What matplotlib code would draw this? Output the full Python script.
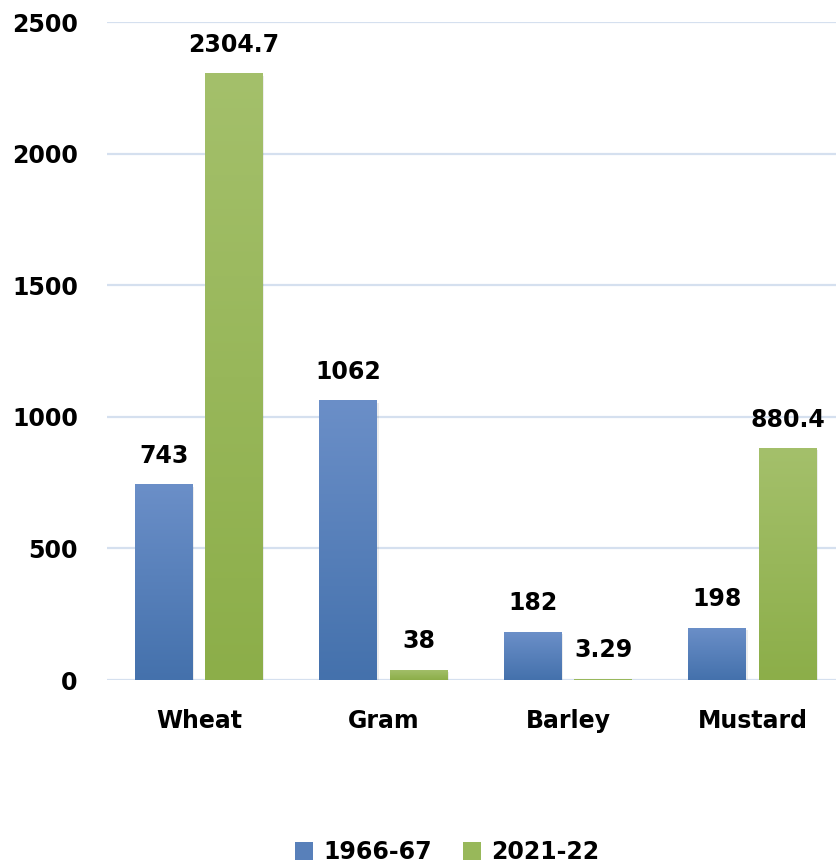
import numpy as np
import matplotlib
matplotlib.use("Agg")
import matplotlib.pyplot as plt
from matplotlib.colors import LinearSegmentedColormap
from matplotlib.patches import Patch

categories = ["Wheat", "Gram", "Barley", "Mustard"]
series = ["1966-67", "2021-22"]
vals_1966 = [743, 1062, 182, 198]
vals_2021 = [2304.7, 38, 3.29, 880.4]
label_1966 = ["743", "1062", "182", "198"]
label_2021 = ["2304.7", "38", "3.29", "880.4"]

# gradient ends (top, bottom)
blue = ("#6B8FC8", "#4471AC")
green = ("#A4C06B", "#8CAE49")

plt.rcParams["font.family"] = "DejaVu Sans"
plt.rcParams["font.weight"] = "bold"

fig = plt.figure(figsize=(8.36, 8.63), dpi=100)
ax = fig.add_axes([107/836, 183/863, 729/836, 658/863])

x = np.arange(len(categories))
w = 0.314
off = 0.19
fs = 17

def grad_bars(bars, cols):
    cmap = LinearSegmentedColormap.from_list("g", [cols[1], cols[0]])
    grad = np.linspace(0, 1, 256).reshape(-1, 1)
    for b in bars:
        x0, y0 = b.get_x(), b.get_y()
        x1, y1 = x0 + b.get_width(), y0 + b.get_height()
        # soft shadow
        ax.bar(x0 + b.get_width()/2 + 0.008, b.get_height(), width=b.get_width(),
               bottom=-8, color="#000000", alpha=0.07, zorder=1.5)
        im = ax.imshow(grad, cmap=cmap, origin="lower", aspect="auto",
                       extent=[x0, x1, y0, y1], zorder=2, interpolation="bicubic")
        im.set_clip_path(b)

b1 = ax.bar(x - off, vals_1966, width=w, color=blue[1], zorder=2)
b2 = ax.bar(x + off, vals_2021, width=w, color=green[1], zorder=2)
grad_bars(b1, blue)
grad_bars(b2, green)

for bars, labels in ((b1, label_1966), (b2, label_2021)):
    for b, lab in zip(bars, labels):
        ax.annotate(lab, (b.get_x() + b.get_width()/2, b.get_height()),
                    xytext=(0, 12), textcoords="offset points",
                    ha="center", va="bottom", fontsize=fs, fontweight="bold")

ax.set_xlim(-0.4986, 3.4526)
ax.set_ylim(0, 2500)
ax.set_yticks(np.arange(0, 2501, 500))
ax.set_xticks(x)
ax.set_xticklabels(categories)
ax.tick_params(axis="y", length=0, pad=21, labelsize=fs)
ax.tick_params(axis="x", length=0, pad=21, labelsize=fs)
for t in ax.get_yticklabels() + ax.get_xticklabels():
    t.set_fontweight("bold")

ax.grid(axis="y", color="#D5E0EF", linewidth=1.6, zorder=0)
ax.set_axisbelow(True)
for s in ax.spines.values():
    s.set_visible(False)

handles = [Patch(facecolor="#5880BA", label=series[0]),
           Patch(facecolor="#98B85A", label=series[1])]
fig.legend(handles=handles, loc="lower center", bbox_to_anchor=(0.535, -0.026),
           ncol=2, frameon=False, handlelength=0.75,
           handleheight=0.75, handletextpad=0.45, columnspacing=1.3,
           prop={"weight": "bold", "size": fs})

fig.savefig("out.png", dpi=100)
